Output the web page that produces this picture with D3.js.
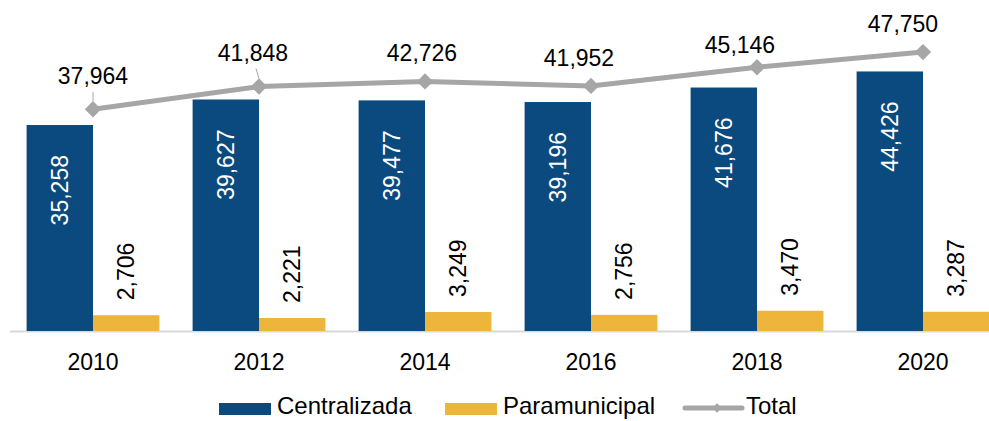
<!DOCTYPE html>
<html lang="es">
<head>
  <meta charset="UTF-8">
  <script src="https://d3js.org/d3.v7.min.js"></script>
  <title>Plazas</title>
  <style>
    body { margin: 0; padding: 0; background: #fff; }
    svg { display: block; font-family: "Liberation Sans", Arial, sans-serif; }
  </style>
</head>
<body>
  <div id="chart"></div>
  <script>
    let years = ["2010", "2012", "2014", "2016", "2018", "2020"]
    let centralizada = [35258, 39627, 39477, 39196, 41676, 44426]
    let paramunicipal = [2706, 2221, 3249, 2756, 3470, 3287]
    let total = [37964, 41848, 42726, 41952, 45146, 47750]

    // small nudges for the total labels (layout only)
    let totDx = [0, -6, -3, -12, -17, -20]
    let totDy = [-25, -26, -20, -20, -14, -20]

    let width = 989, height = 421
    let cBlue = "#0b4a7e", cYellow = "#edb53a", cGray = "#a6a6a6"

    let svg = d3.select("#chart").append("svg")
      .attr("width", width).attr("height", height)

    let x = d3.scaleBand().domain(years).range([10, 1006])
    let sub = d3.scaleBand().domain(["c", "p"]).range([0, x.bandwidth()]).paddingOuter(0.25).paddingInner(0)
    let y = d3.scaleLinear().domain([0, 50000]).range([331, 38.9])
    let fmt = d3.format(",")

    // baseline
    svg.append("line").attr("x1", 10).attr("x2", width)
      .attr("y1", y(0) + 0.5).attr("y2", y(0) + 0.5)
      .attr("stroke", "#d9d9d9").attr("stroke-width", 2)

    let g = svg.append("g")
    g.selectAll("rect.c").data(centralizada).enter().append("rect")
      .attr("class", "c")
      .attr("x", (d, i) => x(years[i]) + sub("c"))
      .attr("width", sub.bandwidth())
      .attr("y", d => y(d)).attr("height", d => y(0) - y(d))
      .attr("fill", cBlue)
    g.selectAll("rect.p").data(paramunicipal).enter().append("rect")
      .attr("class", "p")
      .attr("x", (d, i) => x(years[i]) + sub("p"))
      .attr("width", sub.bandwidth())
      .attr("y", d => y(d)).attr("height", d => y(0) - y(d))
      .attr("fill", cYellow)

    // bar labels
    g.selectAll("text.c").data(centralizada).enter().append("text")
      .attr("transform", (d, i) => {
        let cx = x(years[i]) + sub("c") + sub.bandwidth() / 2
        return `translate(${cx},${y(d) + 30}) rotate(-90)`
      })
      .attr("text-anchor", "end").attr("dy", "0.36em")
      .attr("fill", "#fff").attr("font-size", 23)
      .text(d => fmt(d))
    g.selectAll("text.p").data(paramunicipal).enter().append("text")
      .attr("transform", (d, i) => {
        let cx = x(years[i]) + sub("p") + sub.bandwidth() / 2
        return `translate(${cx},${y(d) - 15}) rotate(-90)`
      })
      .attr("text-anchor", "start").attr("dy", "0.36em")
      .attr("fill", "#000").attr("font-size", 23)
      .text(d => fmt(d))

    // total line
    let cx = (d, i) => x(years[i]) + x.bandwidth() / 2
    let line = d3.line().x(cx).y(d => y(d))
    g.append("path").datum(total)
      .attr("d", line).attr("fill", "none")
      .attr("stroke", cGray).attr("stroke-width", 5)
    let diamond = d3.symbol().type(d3.symbolDiamond2).size(170)
    g.selectAll("path.mk").data(total).enter().append("path")
      .attr("class", "mk")
      .attr("d", diamond)
      .attr("transform", (d, i) => `translate(${cx(d, i)},${y(d)})`)
      .attr("fill", cGray)

    // leader lines on the first two labels
    g.selectAll("line.ld").data(total.slice(0, 2)).enter().append("line")
      .attr("x1", (d, i) => cx(d, i)).attr("x2", (d, i) => cx(d, i) + totDx[i] / 2)
      .attr("y1", d => y(d) - 8).attr("y2", (d, i) => y(d) + totDy[i] + 8)
      .attr("stroke", cGray).attr("stroke-width", 1)

    g.selectAll("text.t").data(total).enter().append("text")
      .attr("x", (d, i) => cx(d, i) + totDx[i])
      .attr("y", (d, i) => y(d) + totDy[i])
      .attr("text-anchor", "middle").attr("font-size", 23).attr("fill", "#000")
      .text(d => fmt(d))

    // x axis labels
    let xAxis = d3.axisBottom(x).tickSize(0).tickPadding(0)
    let ax = svg.append("g").attr("transform", `translate(0,${y(0)})`).call(xAxis)
    ax.select(".domain").remove()
    ax.selectAll("text").attr("font-size", 23).attr("fill", "#000")
      .attr("font-family", "Liberation Sans, Arial, sans-serif")
      .attr("dy", null).attr("y", 39)

    // legend
    let legend = [
      { name: "Centralizada", type: "rect", color: cBlue, x: 219 },
      { name: "Paramunicipal", type: "rect", color: cYellow, x: 445 },
      { name: "Total", type: "line", color: cGray, x: 685 }
    ]
    let ly = 414
    let lg = svg.append("g")
    legend.forEach(l => {
      if (l.type == "rect") {
        lg.append("rect").attr("x", l.x).attr("y", ly - 11).attr("width", 52).attr("height", 12).attr("fill", l.color)
        lg.append("text").attr("x", l.x + 58).attr("y", ly).attr("font-size", 24).text(l.name)
      } else {
        lg.append("line").attr("x1", l.x).attr("x2", l.x + 57).attr("y1", ly - 6).attr("y2", ly - 6)
          .attr("stroke", l.color).attr("stroke-width", 5).attr("stroke-linecap", "round")
        lg.append("path").attr("d", d3.symbol().type(d3.symbolDiamond2).size(60))
          .attr("transform", `translate(${l.x + 32},${ly - 6})`).attr("fill", l.color)
        lg.append("text").attr("x", l.x + 61).attr("y", ly).attr("font-size", 24).text(l.name)
      }
    })
  </script>
</body>
</html>
